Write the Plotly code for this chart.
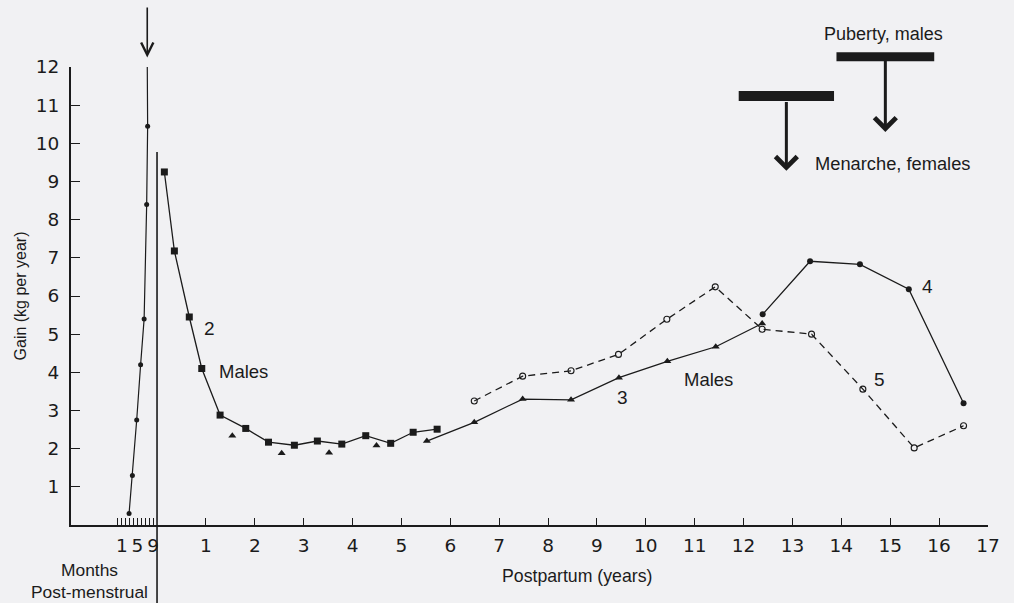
import plotly.graph_objects as go

# ---- data -----------------------------------------------------------------
# Prenatal gain velocity, plotted against post-menstrual month
prenatal_month = [2.85, 3.7, 4.8, 5.8, 6.7, 7.35, 7.6, 7.5]
prenatal_gain = [0.3, 1.3, 2.75, 4.2, 5.4, 8.4, 10.45, 12.1]

# Curve 2 - males, infancy / early childhood (squares)
c2_age = [0.15, 0.355, 0.66, 0.915, 1.29, 1.815, 2.28, 2.81, 3.28, 3.78, 4.27, 4.78, 5.24, 5.73]
c2_gain = [9.25, 7.18, 5.45, 4.1, 2.88, 2.53, 2.17, 2.09, 2.2, 2.12, 2.34, 2.14, 2.43, 2.51]

# Curve 3 - males: isolated early triangles, then the connected series
c3_early_age = [1.54, 2.55, 3.52, 4.49]
c3_early_gain = [2.34, 1.88, 1.89, 2.08]
c3_age = [5.52, 6.49, 7.48, 8.47, 9.45, 10.44, 11.43, 12.38]
c3_gain = [2.2, 2.69, 3.3, 3.28, 3.86, 4.29, 4.67, 5.28]

# Curve 4 - males, adolescence (solid circles)
c4_age = [12.39, 13.36, 14.38, 15.38, 16.5]
c4_gain = [5.52, 6.91, 6.83, 6.18, 3.19]

# Curve 5 - females (open circles, dashed)
c5_age = [6.49, 7.48, 8.47, 9.44, 10.43, 11.42, 12.38, 13.39, 14.44, 15.49, 16.5]
c5_gain = [3.25, 3.9, 4.04, 4.47, 5.39, 6.24, 5.13, 5.0, 3.56, 2.02, 2.6]

# Age ranges (years) of puberty in males and menarche in females
puberty_males = [13.9, 15.9]
menarche_females = [11.9, 13.85]

# Tick labels
month_ticks = list(range(0, 10))
month_tick_text = ["", "1", "", "", "", "5", "", "", "", "9"]
year_ticks = list(range(1, 18))
gain_ticks = list(range(1, 13))

# ---- scales ---------------------------------------------------------------
# The prenatal months sit on a compressed scale just left of birth (x = 0).
YEARS_PER_MONTH = 0.08
MONTH_AT_BIRTH = 10


def month_pos(m):
    return (m - MONTH_AT_BIRTH) * YEARS_PER_MONTH


X_RANGE = [-1.76, 17.0]
Y_MAX = 12
MARGIN = dict(l=71, r=26, t=67, b=78)
WIDTH, HEIGHT = 1014, 603
PLOT_H = HEIGHT - MARGIN["t"] - MARGIN["b"]
PX_PER_KG = PLOT_H / Y_MAX


def x_paper(x):
    return (x - X_RANGE[0]) / (X_RANGE[1] - X_RANGE[0])


def y_paper(v):
    return v / Y_MAX


INK = "#1b1b1b"
BG = "#f1f1f3"
SANS = "Liberation Sans, Arial, sans-serif"
TICK_FONT = dict(family="DejaVu Sans", size=18.5, color=INK)

fig = go.Figure()

fig.add_trace(go.Scatter(
    x=[month_pos(m) for m in prenatal_month], y=prenatal_gain,
    mode="lines+markers", line=dict(color=INK, width=1.2),
    marker=dict(symbol="circle", size=5, color=INK),
    cliponaxis=False, showlegend=False, hoverinfo="skip"))

fig.add_trace(go.Scatter(
    x=c5_age, y=c5_gain, mode="lines+markers",
    line=dict(color=INK, width=1.3, dash="7px,5px"),
    marker=dict(symbol="circle-open", size=6, color=INK, line=dict(width=1.1)),
    showlegend=False, hoverinfo="skip"))

fig.add_trace(go.Scatter(
    x=c2_age, y=c2_gain, mode="lines+markers",
    line=dict(color=INK, width=1.3),
    marker=dict(symbol="square", size=7, color=INK),
    showlegend=False, hoverinfo="skip"))

fig.add_trace(go.Scatter(
    x=c3_early_age, y=c3_early_gain, mode="markers",
    marker=dict(symbol="triangle-up", size=7, color=INK),
    showlegend=False, hoverinfo="skip"))

fig.add_trace(go.Scatter(
    x=c3_age, y=c3_gain, mode="lines+markers",
    line=dict(color=INK, width=1.3),
    marker=dict(symbol="triangle-up", size=7, color=INK),
    showlegend=False, hoverinfo="skip"))

fig.add_trace(go.Scatter(
    x=c4_age, y=c4_gain, mode="lines+markers",
    line=dict(color=INK, width=1.3),
    marker=dict(symbol="circle", size=6, color=INK),
    showlegend=False, hoverinfo="skip"))

# Birth line, running from the top of the infant curve down past the axis
fig.add_shape(type="line", xref="x", yref="paper", x0=0, x1=0,
              y0=y_paper(-2.2), y1=y_paper(9.77),
              line=dict(color=INK, width=1.6))

# Puberty / menarche age bars
fig.add_shape(type="line", xref="x", yref="paper",
              x0=puberty_males[0], x1=puberty_males[1],
              y0=y_paper(12.27), y1=y_paper(12.27),
              line=dict(color=INK, width=9))
fig.add_shape(type="line", xref="x", yref="paper",
              x0=menarche_females[0], x1=menarche_females[1],
              y0=y_paper(11.24), y1=y_paper(11.24),
              line=dict(color=INK, width=10))

annotations = []


def arrow(x, y_tip, y_tail, head, width, size):
    annotations.append(dict(
        x=x_paper(x), y=y_paper(y_tip), xref="paper", yref="paper",
        ax=0, ay=-(y_tail - y_tip) * PX_PER_KG,
        text="", showarrow=True, arrowhead=head, arrowwidth=width,
        arrowsize=size, arrowcolor=INK, standoff=0, startstandoff=0))


# Peak of prenatal velocity
arrow(month_pos(7.5), 12.25, 13.6, 5, 1.6, 1.5)
# Puberty (males) and menarche (females) arrows from the middle of each bar
arrow(sum(puberty_males) / 2, 10.3, 12.2, 4, 3, 1.4)
arrow(sum(menarche_females) / 2, 9.28, 11.12, 4, 3, 1.4)


def label(text, x, y, size=18.5, xanchor="center"):
    annotations.append(dict(text=text, x=x_paper(x), y=y_paper(y),
                            xref="paper", yref="paper",
                            showarrow=False, xanchor=xanchor, yanchor="middle",
                            font=dict(family=SANS, size=size, color=INK)))


label("2", 1.08, 5.16, 19)
label("Males", 1.76, 4.01)
label("3", 9.53, 3.33, 19)
label("Males", 11.29, 3.82)
label("4", 15.77, 6.26, 19)
label("5", 14.79, 3.8, 19)
label("Puberty, males", 14.87, 12.86, 18)
label("Menarche, females", 13.42, 9.48, 18.3, xanchor="left")
label("Postpartum (years)", 8.59, -1.34, 17.7)
label("Months", -1.39, -1.18, 17.4)
label("Post-menstrual", -1.39, -1.76, 17.4)

fig.update_layout(
    width=WIDTH, height=HEIGHT,
    margin=MARGIN,
    paper_bgcolor=BG, plot_bgcolor=BG,
    annotations=annotations,
    xaxis=dict(
        range=X_RANGE,
        tickvals=[month_pos(m) for m in month_ticks] + year_ticks,
        ticktext=month_tick_text + [str(t) for t in year_ticks],
        ticks="inside", ticklen=7, tickwidth=1.3, tickcolor=INK,
        showline=True, linewidth=2, linecolor=INK,
        showgrid=False, zeroline=False, tickfont=TICK_FONT,
        ticklabelstandoff=3),
    yaxis=dict(
        range=[0, Y_MAX], tickvals=gain_ticks,
        ticks="inside", ticklen=9, tickwidth=1.3, tickcolor=INK,
        showline=True, linewidth=2, linecolor=INK,
        showgrid=False, zeroline=False, tickfont=TICK_FONT,
        ticklabelstandoff=6,
        title=dict(text="Gain (kg per year)", standoff=5,
                   font=dict(family=SANS, size=16, color=INK))),
)

fig.write_html("out.html")
